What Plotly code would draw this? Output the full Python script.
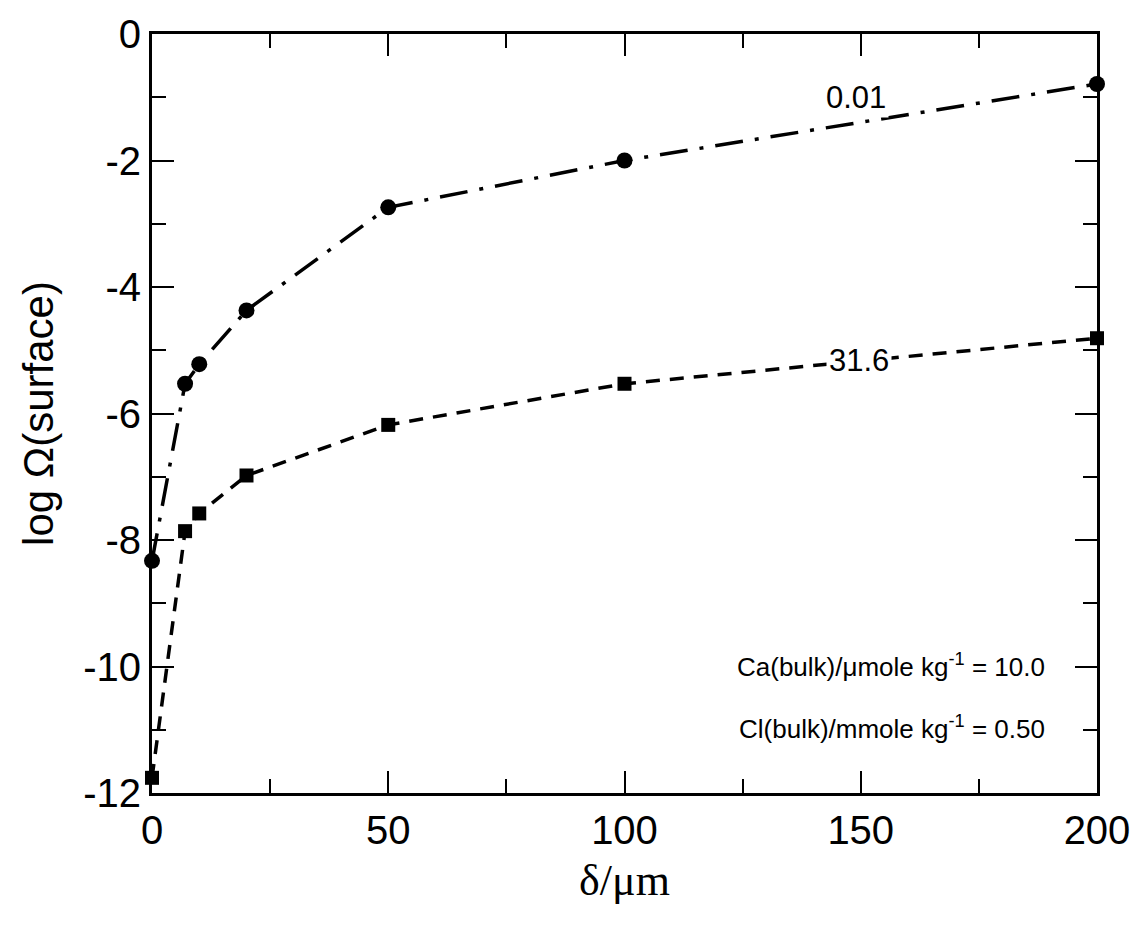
import plotly.graph_objects as go

delta_um = [0, 7, 10, 20, 50, 100, 200]
log_omega_001 = [-8.33, -5.53, -5.22, -4.37, -2.74, -2.00, -0.79]
log_omega_316 = [-11.76, -7.86, -7.58, -6.98, -6.18, -5.53, -4.81]
series_labels = ["0.01", "31.6"]
x_ticks = [0, 50, 100, 150, 200]
y_ticks = [0, -2, -4, -6, -8, -10, -12]

fig = go.Figure()
fig.add_trace(go.Scatter(
    x=delta_um, y=log_omega_001, mode="lines+markers",
    line=dict(color="black", width=3.5, dash="28px,12px,4px,12px"),
    marker=dict(symbol="circle", size=16, color="black"),
    cliponaxis=False, showlegend=False))
fig.add_trace(go.Scatter(
    x=delta_um, y=log_omega_316, mode="lines+markers",
    line=dict(color="black", width=3.5, dash="14px,10px"),
    marker=dict(symbol="square", size=14, color="black"),
    cliponaxis=False, showlegend=False))

font_main = "Liberation Sans, Arial, sans-serif"

fig.add_annotation(x=149, y=-1.0, text=series_labels[0], showarrow=False,
                   font=dict(size=31, color="black", family=font_main),
                   bgcolor="white", borderpad=2)
fig.add_annotation(x=149.6, y=-5.16, text=series_labels[1], showarrow=False,
                   font=dict(size=31, color="black", family=font_main),
                   bgcolor="white", borderpad=2)
fig.add_annotation(x=189.5, y=-9.98, xanchor="right",
                   text="Ca(bulk)/μmole kg<sup>-1</sup> = 10.0", showarrow=False,
                   font=dict(size=26, color="black", family=font_main))
fig.add_annotation(x=189.5, y=-10.97, xanchor="right",
                   text="Cl(bulk)/mmole kg<sup>-1</sup> = 0.50", showarrow=False,
                   font=dict(size=26, color="black", family=font_main))

fig.update_xaxes(
    range=[0, 200], tickvals=x_ticks, ticktext=[str(v) for v in x_ticks],
    ticks="inside", ticklen=22, tickwidth=2, tickcolor="black",
    minor=dict(dtick=25, tick0=0, ticks="inside", ticklen=14, tickwidth=2, tickcolor="black"),
    showline=True, linecolor="black", linewidth=3, mirror="allticks",
    showgrid=False, zeroline=False,
    tickfont=dict(size=40, color="black", family=font_main),
    title=dict(text="δ/μm", font=dict(size=44, color="black", family="Liberation Serif, Times New Roman, serif"), standoff=14))
fig.update_yaxes(
    range=[-12, 0], tickvals=y_ticks, ticktext=[str(v) for v in y_ticks],
    ticks="inside", ticklen=22, tickwidth=2, tickcolor="black",
    minor=dict(dtick=1, tick0=0, ticks="inside", ticklen=14, tickwidth=2, tickcolor="black"),
    showline=True, linecolor="black", linewidth=3, mirror="allticks",
    showgrid=False, zeroline=False,
    tickfont=dict(size=40, color="black", family=font_main),
    title=dict(text="log Ω(surface)", font=dict(size=42, color="black", family=font_main), standoff=17))

fig.update_layout(
    width=1142, height=925,
    margin=dict(l=152, r=42, t=30, b=132),
    plot_bgcolor="white", paper_bgcolor="white")

fig.write_html("out.html")
